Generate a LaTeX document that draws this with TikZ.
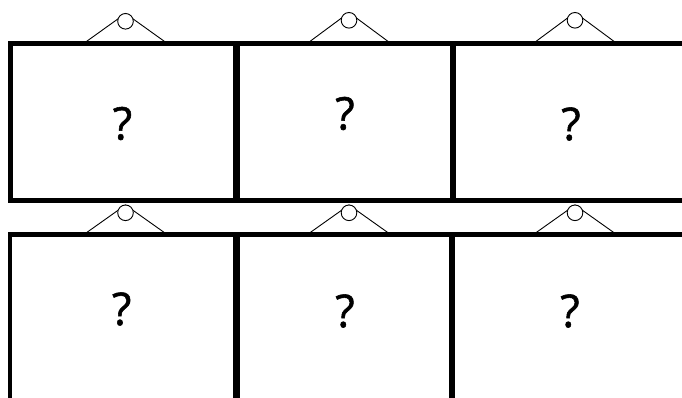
\documentclass[tikz,border=0pt]{standalone}
\usepackage{fontspec}
\setmainfont{Open Sans}
\newfontfamily\qfont[FakeBold=1.2]{Open Sans}
\tikzset{
  framebox/.style={line width=4.8pt, draw=black},
  hangline/.style={line width=0.9pt, draw=black},
  hangring/.style={line width=0.9pt, draw=black, fill=white},
  qmark/.style={font=\qfont\fontsize{45}{50}\selectfont, inner sep=0pt}
}
\newcommand{\hanger}[3]{% cx, base y, apex y
  \draw[hangline] (#1-42,#2) -- (#1,#3) -- (#1+42,#2);
  \draw[hangring] (#1,#3+7.8) circle (7.8);
}
\begin{document}
\begin{tikzpicture}[x=1pt,y=-1pt]
\useasboundingbox (0,0) rectangle (682,398);
\clip (0,0) rectangle (682,398);
% top row frames
\draw[framebox] (10.6,43.6) rectangle (235.4,200.8);
\draw[framebox] (237.6,43.6) rectangle (452.0,200.8);
\draw[framebox] (454.0,43.6) rectangle (720,200.8);
% bottom row frames
\draw[framebox] (10.0,234.8) rectangle (235.2,440);
\draw[framebox] (237.4,234.8) rectangle (451.0,440);
\draw[framebox] (453.0,234.8) rectangle (720,440);
% hangers
\hanger{125.5}{43.6}{13.5}
\hanger{349}{43.6}{12.5}
\hanger{575}{43.6}{12.5}
\hanger{125.5}{234.8}{205}
\hanger{349}{234.8}{205}
\hanger{575}{234.8}{205}
% texts
\node[qmark] (q1) at (122.5,123.5) {?};
\node[qmark] (q2) at (345,113.5) {?};
\node[qmark] (q3) at (571,124) {?};
\node[qmark] (q4) at (121.7,309) {?};
\node[qmark] (q5) at (345,311) {?};
\node[qmark] (q6) at (570,311) {?};
\end{tikzpicture}
\end{document}
